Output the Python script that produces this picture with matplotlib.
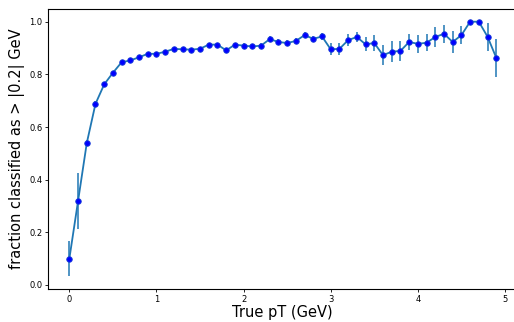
import numpy as np
import matplotlib
matplotlib.use("Agg")
import matplotlib.pyplot as plt

# true pT bin centres (GeV)
pt = [0.0, 0.1, 0.2, 0.3, 0.4, 0.5, 0.6, 0.7, 0.8, 0.9,
      1.0, 1.1, 1.2, 1.3, 1.4, 1.5, 1.6, 1.7, 1.8, 1.9,
      2.0, 2.1, 2.2, 2.3, 2.4, 2.5, 2.6, 2.7, 2.8, 2.9,
      3.0, 3.1, 3.2, 3.3, 3.4, 3.5, 3.6, 3.7, 3.8, 3.9,
      4.0, 4.1, 4.2, 4.3, 4.4, 4.5, 4.6, 4.7, 4.8, 4.9]

# fraction classified as > |0.2| GeV
frac = [0.100, 0.319, 0.539, 0.688, 0.762, 0.806, 0.846, 0.853, 0.865, 0.878,
        0.878, 0.886, 0.897, 0.895, 0.894, 0.897, 0.913, 0.913, 0.891, 0.913,
        0.909, 0.906, 0.909, 0.934, 0.923, 0.919, 0.927, 0.949, 0.935, 0.944,
        0.895, 0.897, 0.930, 0.942, 0.914, 0.919, 0.873, 0.886, 0.889, 0.923,
        0.916, 0.920, 0.942, 0.954, 0.923, 0.949, 1.000, 1.000, 0.943, 0.863]

frac_err = [0.067, 0.105, 0.012, 0.010, 0.008, 0.007, 0.006, 0.006, 0.006, 0.006,
            0.006, 0.007, 0.007, 0.007, 0.007, 0.008, 0.008, 0.008, 0.008, 0.008,
            0.009, 0.009, 0.010, 0.012, 0.011, 0.012, 0.012, 0.012, 0.012, 0.012,
            0.023, 0.023, 0.023, 0.020, 0.027, 0.030, 0.037, 0.039, 0.039, 0.030,
            0.034, 0.032, 0.039, 0.033, 0.041, 0.034, 0.000, 0.000, 0.054, 0.073]

fig = plt.figure(figsize=(5.14, 3.22), dpi=100)
ax = fig.add_axes([0.0934, 0.1025, 0.9136, 0.8696])

ax.errorbar(pt, frac, yerr=frac_err, color="#1f77b4", lw=1.3, elinewidth=1.1)
ax.plot(pt, frac, "o", color="#0000ff", markersize=4.0, markeredgewidth=0.6,
        markeredgecolor="#1a3fd6", zorder=3)

ax.set_xlabel("True pT (GeV)", fontsize=10.5, labelpad=1)
ax.set_ylabel("fraction classified as > |0.2| GeV", fontsize=10.5, labelpad=3)
ax.tick_params(labelsize=6, length=2, width=0.6, pad=2)
for s in ax.spines.values():
    s.set_linewidth(0.8)
# the reference is cropped just before the right frame edge
ax.spines["right"].set_visible(False)

fig.savefig("out.png", dpi=100)
